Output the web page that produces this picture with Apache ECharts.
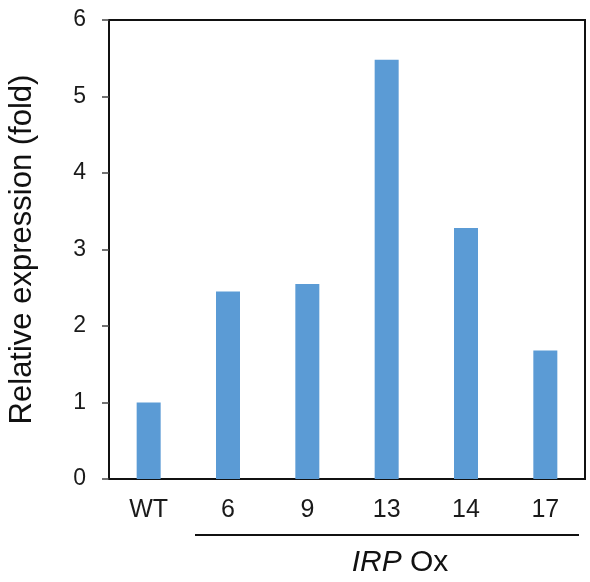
<!DOCTYPE html>
<html>
<head>
<meta charset="utf-8">
<script src="https://cdn.jsdelivr.net/npm/echarts@6/dist/echarts.min.js"></script>
<style>
  html, body { margin: 0; padding: 0; background: #fff; }
  #main { width: 590px; height: 582px; }
</style>
</head>
<body>
<div id="main"></div>
<script>
// data
var lines = ['WT', '6', '9', '13', '14', '17'];
var expression = [1.0, 2.45, 2.55, 5.48, 3.28, 1.68];
var yTicks = [0, 1, 2, 3, 4, 5, 6];

var chart = echarts.init(document.getElementById('main'));
var font = 'Liberation Sans, Arial, sans-serif';

chart.setOption({
  animation: false,
  backgroundColor: '#fff',
  grid: {
    left: 109, right: 5, top: 20, bottom: 103,
    outerBoundsMode: 'none',
    show: true,
    borderColor: '#111',
    borderWidth: 2
  },
  xAxis: {
    type: 'category',
    data: lines,
    axisLine: { lineStyle: { color: '#111', width: 2 } },
    axisTick: { show: false },
    axisLabel: { color: '#1a1a1a', fontSize: 25, fontFamily: font, margin: 19 }
  },
  yAxis: {
    type: 'value',
    min: yTicks[0],
    max: yTicks[yTicks.length - 1],
    interval: 1,
    name: 'Relative expression (fold)',
    nameLocation: 'middle',
    nameGap: 71,
    nameTextStyle: { color: '#111', fontSize: 31, fontFamily: font },
    axisLine: { show: true, lineStyle: { color: '#111', width: 2 } },
    axisTick: { show: true, length: 7, lineStyle: { color: '#444', width: 1.5 } },
    axisLabel: { color: '#1a1a1a', fontSize: 23, fontFamily: font, margin: 23 },
    splitLine: { show: false }
  },
  series: [{
    type: 'bar',
    data: expression,
    barWidth: 24,
    itemStyle: { color: '#5B9BD5' }
  }],
  graphic: [
    {
      type: 'line',
      shape: { x1: 195, y1: 535, x2: 579, y2: 535 },
      style: { stroke: '#111', lineWidth: 2 }
    },
    {
      type: 'text',
      x: 400,
      y: 563,
      style: {
        text: '{i|IRP} Ox',
        align: 'center',
        verticalAlign: 'middle',
        fontSize: 30,
        fontFamily: font,
        fill: '#111',
        rich: { i: { fontStyle: 'italic', fontSize: 30, fontFamily: font, fill: '#111' } }
      }
    }
  ]
});
</script>
</body>
</html>
